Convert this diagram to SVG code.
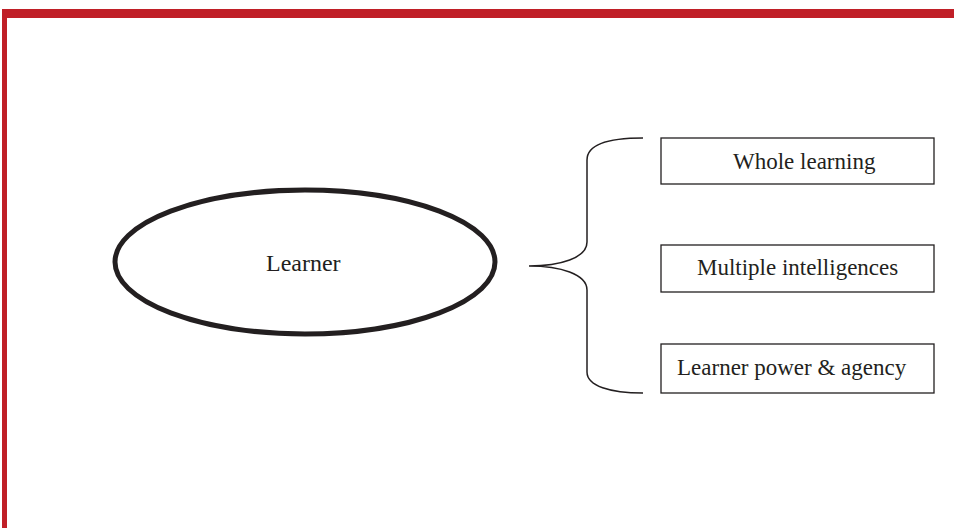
<svg xmlns="http://www.w3.org/2000/svg" width="954" height="528" viewBox="0 0 954 528">
  <style>
    .frame { fill: #c01f27; }
    .lbl { font-family: "Liberation Serif", "Times New Roman", serif; font-size: 23px; fill: #231f20; }
    .box { fill: #ffffff; stroke: #231f20; stroke-width: 1.3; }
    .brace { fill: none; stroke: #231f20; stroke-width: 1.5; }
  </style>
  <rect width="954" height="528" fill="#ffffff"/>
  <!-- red page frame -->
  <rect class="frame" x="2" y="9" width="952" height="9"/>
  <rect class="frame" x="2" y="9" width="5" height="519"/>

  <g id="learner">
    <ellipse cx="305" cy="262" rx="190" ry="72" fill="#ffffff" stroke="#231f20" stroke-width="5"/>
    <text class="lbl" x="266" y="271" style="font-size:24px">Learner</text>
  </g>

  <g id="connectors">
    <path class="brace" d="M643,138 C610,138 587,144 587,160 L587,242 C587,258 560,266 529,266 C560,266 587,274 587,290 L587,372 C587,386 610,393 643,393"/>
  </g>

  <g id="whole-learning">
    <rect class="box" x="661" y="138" width="273" height="46"/>
    <text class="lbl" x="733" y="169">Whole learning</text>
  </g>
  <g id="multiple-intelligences">
    <rect class="box" x="661" y="245" width="273" height="47"/>
    <text class="lbl" x="697" y="275">Multiple intelligences</text>
  </g>
  <g id="learner-power">
    <rect class="box" x="661" y="344" width="273" height="49"/>
    <text class="lbl" x="677" y="375">Learner power &amp; agency</text>
  </g>
</svg>
